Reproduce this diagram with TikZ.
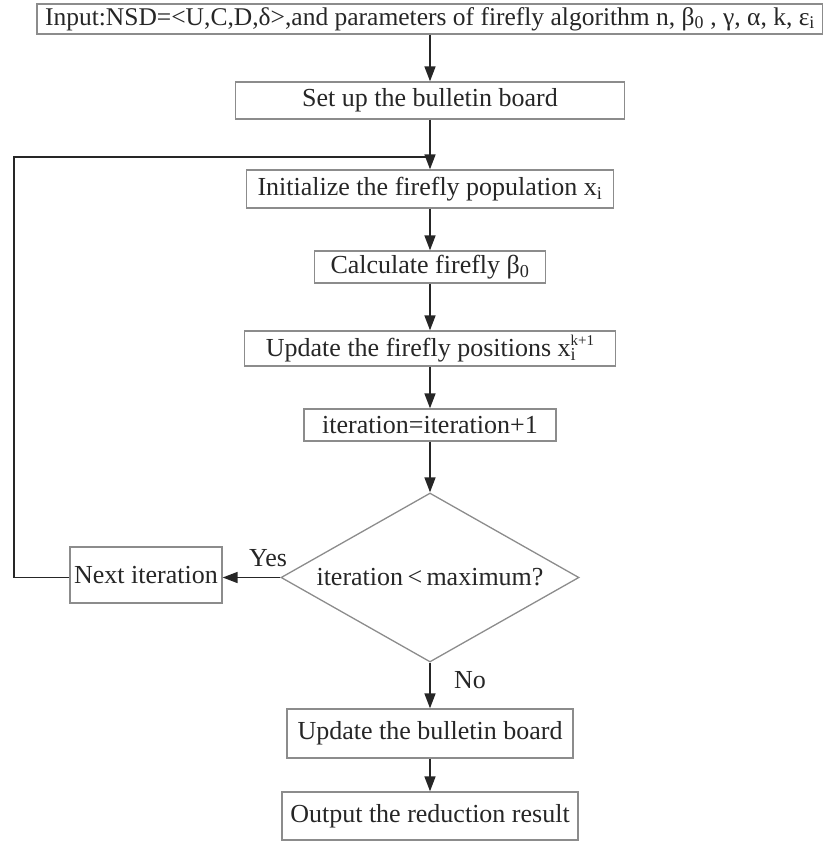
\documentclass[tikz,border=0pt]{standalone}
\usepackage{fontspec}
\setmainfont{Liberation Serif}
\usetikzlibrary{shapes.geometric,arrows.meta}
\begin{document}
\begin{tikzpicture}[x=1pt,y=-1pt,
  box/.style={draw=black!45,line width=1.3pt,inner sep=0pt,text=black!85,font=\fontsize{26}{28}\selectfont,anchor=center},
  conn/.style={draw=black!85,line width=1.6pt,-{Triangle[length=15pt,width=11pt]}},
  plain/.style={draw=black!85,line width=1.6pt},
  lbl/.style={text=black!85,font=\fontsize{26}{28}\selectfont}]
\useasboundingbox (0,0) rectangle (822,848);
\node[box,minimum width=786pt,minimum height=30pt,font=\fontsize{25.5}{27}\selectfont] (in) at (430,19) {Input:NSD=<U,C,D,δ>,and parameters of firefly algorithm n, β\textsubscript{0} , γ, α, k, ε\textsubscript{i}};
\node[box,minimum width=389pt,minimum height=37pt] (set) at (430,100.5) {Set up the bulletin board};
\node[box,minimum width=367pt,minimum height=38pt] (init) at (430,189) {Initialize the firefly population x\textsubscript{i}};
\node[box,minimum width=231pt,minimum height=32pt] (calc) at (430,267) {Calculate firefly β\textsubscript{0}};
\node[box,minimum width=371pt,minimum height=35pt] (upd) at (430,348.5) {Update the firefly positions x\rlap{\textsubscript{i}}\raisebox{11pt}{\fontsize{15}{15}\selectfont k+1}};
\node[box,minimum width=252pt,minimum height=32pt] (iter) at (430,425) {iteration=iteration+1};
\node[box,shape=diamond,shape aspect=1.76,minimum width=298pt,minimum height=169pt] (dec) at (430,577.5) {iteration\,<\,maximum?};
\node[box,minimum width=152pt,minimum height=56pt] (next) at (146,575) {Next iteration};
\node[box,minimum width=286pt,minimum height=49pt] (ub) at (430,733.5) {Update the bulletin board};
\node[box,minimum width=296pt,minimum height=48pt] (out) at (430,816) {Output the reduction result};
\coordinate (c1) at (14,157);
\coordinate (c2) at (430,157);
\draw[conn] (in.south -| set.north) -- (set.north);
\draw[conn] (set.south) -- (init.north);
\draw[conn] (init.south) -- (calc.north);
\draw[conn] (calc.south) -- (upd.north);
\draw[conn] (upd.south) -- (iter.north);
\draw[conn] (iter.south) -- (dec.north);
\draw[conn] (dec.west) -- (next.east |- dec.west);
\draw[plain] (next.west |- dec.west) -| (c1) -- (c2);
\draw[conn] (dec.south) -- (ub.north);
\draw[conn] (ub.south) -- (out.north);
\node[lbl] (yes) at (268,558) {Yes};
\node[lbl] (no) at (470,680) {No};
\end{tikzpicture}
\end{document}
